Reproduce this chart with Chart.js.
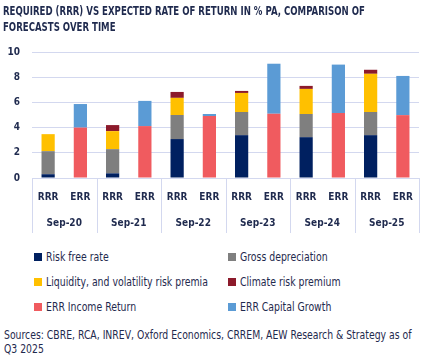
<!DOCTYPE html>
<html><head><meta charset="utf-8">
<script src="https://cdn.jsdelivr.net/npm/chart.js@4/dist/chart.umd.min.js"></script>
<style>
html,body{margin:0;padding:0;background:#fff;}
#wrap{position:relative;width:432px;height:364px;overflow:hidden;font-family:"DejaVu Sans Condensed","DejaVu Sans",sans-serif;color:#1f2a4e;}
#cv{position:absolute;left:0;top:0;}
#title{position:absolute;left:3px;top:4px;font-size:12px;line-height:15.5px;font-weight:bold;white-space:nowrap;transform:scaleX(0.796);transform-origin:0 0;}
.leg{position:absolute;font-size:12px;line-height:16px;height:16px;white-space:nowrap;}
.leg i{position:absolute;left:0;top:4px;width:8px;height:8px;}
.leg span{position:absolute;left:12px;top:0;transform:scaleX(0.865);transform-origin:0 0;}
#src{position:absolute;left:4px;top:328px;font-size:12px;line-height:14px;white-space:nowrap;transform:scaleX(0.861);transform-origin:0 0;}
</style></head>
<body><div id="wrap"><canvas id="cv" width="432" height="240"></canvas>
<div id="title">REQUIRED (RRR) VS EXPECTED RATE OF RETURN IN % PA, COMPARISON OF<br>FORECASTS OVER TIME</div>
<div id="legend"></div>
<div id="src">Sources: CBRE, RCA, INREV, Oxford Economics, CRREM, AEW Research &amp; Strategy as of<br>Q3 2025</div></div>
<script>
const groups = ['Sep-20','Sep-21','Sep-22','Sep-23','Sep-24','Sep-25'];
const barTypes = ['RRR','ERR'];
const riskFree = [0.30, 0.37, 3.09, 3.40, 3.24, 3.40];
const grossDepreciation = [1.83, 1.92, 1.91, 1.84, 1.84, 1.84];
const liquidityPremia = [1.35, 1.43, 1.36, 1.51, 1.99, 3.03];
const climatePremium = [0, 0.48, 0.47, 0.16, 0.24, 0.32];
const incomeReturn = [4.00, 4.12, 4.92, 5.10, 5.16, 4.99];
const capitalGrowth = [1.87, 2.00, 0.16, 3.97, 3.84, 3.11];
const yTicks = [0, 2, 4, 6, 8, 10];

const textColor = '#1f2a4e';
const gridColor = '#d3d8ef';
const fontFam = '"DejaVu Sans Condensed","DejaVu Sans",sans-serif';

const labels = [];
groups.forEach(() => barTypes.forEach(t => labels.push(t)));
const asRRR = arr => { const o = []; arr.forEach(v => { o.push(v); o.push(null); }); return o; };
const asERR = arr => { const o = []; arr.forEach(v => { o.push(null); o.push(v); }); return o; };

const datasets = [
  {label:'Risk free rate', data: asRRR(riskFree), backgroundColor:'#002060'},
  {label:'Gross depreciation', data: asRRR(grossDepreciation), backgroundColor:'#7f7f7f'},
  {label:'Liquidity, and volatility risk premia', data: asRRR(liquidityPremia), backgroundColor:'#ffc000'},
  {label:'Climate risk premium', data: asRRR(climatePremium), backgroundColor:'#8c1a2b'},
  {label:'ERR Income Return', data: asERR(incomeReturn), backgroundColor:'#f05b5f'},
  {label:'ERR Capital Growth', data: asERR(capitalGrowth), backgroundColor:'#5b9bd5'}
];
datasets.forEach(d => { d.stack = 's'; d.categoryPercentage = 1; d.barPercentage = 0.41; d.borderWidth = 0; });

const groupLines = {
  id: 'groupLines',
  afterDraw(chart) {
    const x = chart.scales.x, x2 = chart.scales.x2, ctx = chart.ctx;
    const n = groups.length;
    ctx.save();
    ctx.strokeStyle = gridColor; ctx.lineWidth = 1;
    for (let k = 0; k <= n; k++) {
      const px = Math.round(x.left + (x.right - x.left) * k / n) + 0.5;
      ctx.beginPath();
      ctx.moveTo(px, chart.chartArea.bottom);
      ctx.lineTo(px, x2.bottom);
      ctx.stroke();
    }
    ctx.restore();
  }
};

const tickFont = { family: fontFam, size: 10, weight: 'bold', lineHeight: 1.2 };

const chart = new Chart(document.getElementById('cv'), {
  type: 'bar',
  data: { labels, datasets },
  plugins: [groupLines],
  options: {
    responsive: false,
    animation: false,
    layout: { padding: { left: 3, right: 13, top: 52, bottom: 7 } },
    plugins: {
      legend: { display: false },
      tooltip: { enabled: false },
      title: { display: false }
    },
    scales: {
      x: {
        stacked: true,
        grid: { display: false, drawTicks: false },
        border: { display: false },
        ticks: { color: textColor, font: tickFont, padding: 13, maxRotation: 0, autoSkip: false },
        afterFit: s => { s.height = 26; }
      },
      x2: {
        type: 'category',
        labels: groups,
        position: 'bottom',
        offset: true,
        grid: { display: false, drawTicks: false },
        border: { display: false },
        ticks: { color: textColor, font: tickFont, padding: 13, maxRotation: 0, autoSkip: false },
        afterFit: s => { s.height = 29; }
      },
      y: {
        stacked: true,
        min: 0, max: 10,
        afterBuildTicks: s => { s.ticks = yTicks.map(v => ({ value: v })); },
        grid: { color: gridColor, drawTicks: false },
        border: { display: false },
        ticks: { color: textColor, font: tickFont, padding: 12 },
        afterFit: s => { s.width = 29; }
      }
    }
  }
});

const leg = document.getElementById('legend');
const rowTops = [248.5, 273.5, 298.5];
const colLefts = [34, 228];
chart.data.datasets.forEach((d, i) => {
  const div = document.createElement('div');
  div.className = 'leg';
  div.style.left = colLefts[i % 2] + 'px';
  div.style.top = rowTops[Math.floor(i / 2)] + 'px';
  const sq = document.createElement('i');
  sq.style.background = d.backgroundColor;
  const sp = document.createElement('span');
  sp.textContent = d.label;
  div.appendChild(sq); div.appendChild(sp);
  leg.appendChild(div);
});
</script>
</body></html>
